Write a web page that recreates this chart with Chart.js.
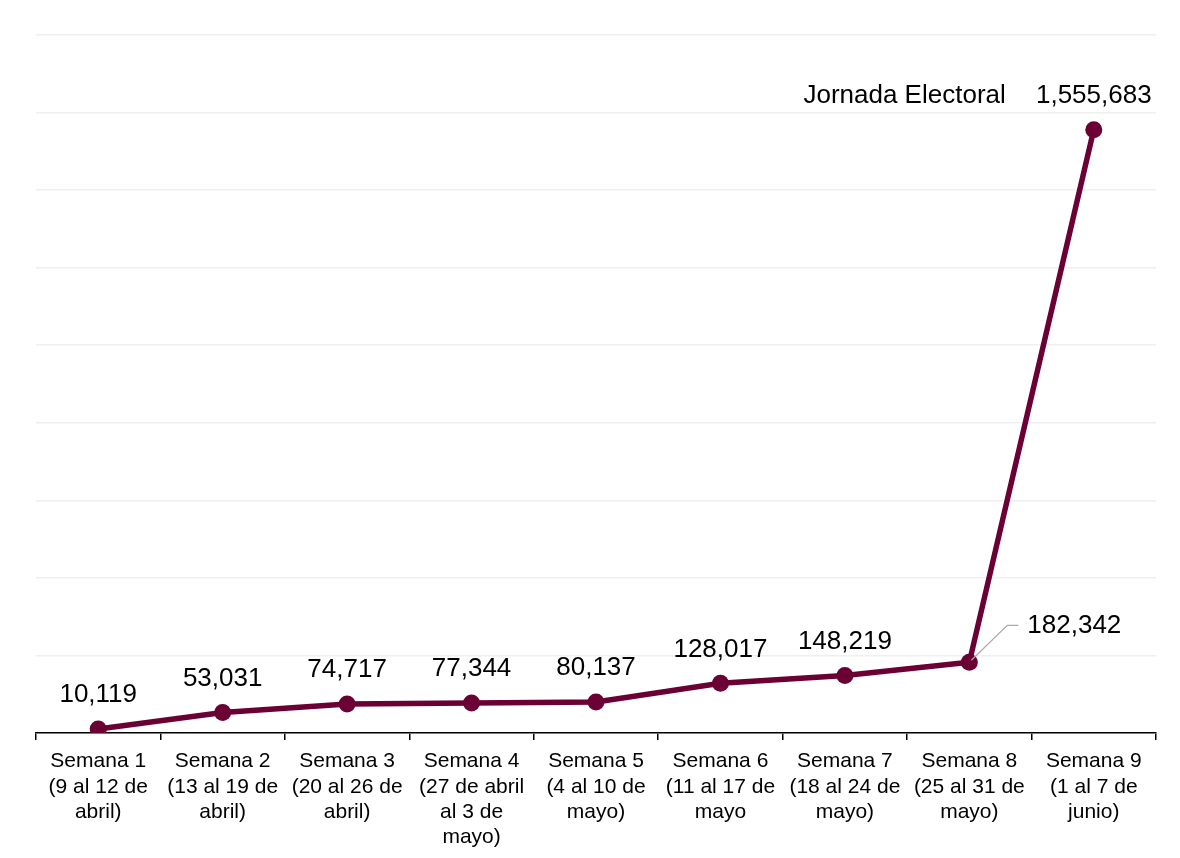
<!DOCTYPE html>
<html>
<head>
<meta charset="utf-8">
<script src="https://cdn.jsdelivr.net/npm/chart.js@4/dist/chart.umd.min.js"></script>
<style>
  html, body { margin: 0; padding: 0; background: #fff; }
  #wrap { width: 1180px; height: 858px; position: relative; }
</style>
</head>
<body>
<div id="wrap"><canvas id="chart"></canvas></div>
<script>
var semanas = [
    ['Semana 1', '(9 al 12 de', 'abril)'],
    ['Semana 2', '(13 al 19 de', 'abril)'],
    ['Semana 3', '(20 al 26 de', 'abril)'],
    ['Semana 4', '(27 de abril', 'al 3 de', 'mayo)'],
    ['Semana 5', '(4 al 10 de', 'mayo)'],
    ['Semana 6', '(11 al 17 de', 'mayo'],
    ['Semana 7', '(18 al 24 de', 'mayo)'],
    ['Semana 8', '(25 al 31 de', 'mayo)'],
    ['Semana 9', '(1 al 7 de', 'junio)']
];
var registros = [10119, 53031, 74717, 77344, 80137, 128017, 148219, 182342, 1555683];
var yMax = 1800000;
var yStep = 200000;
var notaJornada = 'Jornada Electoral';

var granate = '#6b0035';

function fmt(n) {
    return n.toLocaleString('en-US');
}

// etiquetas de valor encima de cada punto
var etiquetas = {
    id: 'etiquetas',
    afterDatasetsDraw: function(chart) {
        var ctx = chart.ctx;
        var meta = chart.getDatasetMeta(0);
        var last = registros.length - 1;
        ctx.save();
        ctx.font = '26px "Liberation Sans", Arial, sans-serif';
        ctx.fillStyle = '#000';
        ctx.textBaseline = 'middle';
        meta.data.forEach(function(pt, i) {
            var txt = fmt(registros[i]);
            if (i === last - 1) {
                // semana 8: etiqueta a la derecha con linea guia
                ctx.strokeStyle = '#aaaaaa';
                ctx.lineWidth = 1.2;
                ctx.beginPath();
                ctx.moveTo(pt.x + 2, pt.y - 2);
                ctx.lineTo(pt.x + 38, pt.y - 37);
                ctx.lineTo(pt.x + 49, pt.y - 37);
                ctx.stroke();
                ctx.textAlign = 'left';
                ctx.fillText(txt, pt.x + 58, pt.y - 36);
            } else {
                ctx.textAlign = 'center';
                ctx.fillText(txt, pt.x, pt.y - 34);
            }
            if (i === last) {
                ctx.textAlign = 'right';
                ctx.fillText(notaJornada, pt.x - 88, pt.y - 34);
            }
        });
        ctx.restore();
    }
};

new Chart(document.getElementById('chart'), {
    type: 'line',
    data: {
        labels: semanas,
        datasets: [{
            data: registros,
            borderColor: granate,
            backgroundColor: granate,
            borderWidth: 5.5,
            pointRadius: 8.5,
            pointHoverRadius: 8.5,
            pointBackgroundColor: granate,
            pointBorderWidth: 0,
            tension: 0
        }]
    },
    options: {
        responsive: true,
        maintainAspectRatio: false,
        animation: false,
        layout: { padding: { left: 36, right: 24, top: 35, bottom: 0 } },
        plugins: {
            legend: { display: false },
            tooltip: { enabled: false }
        },
        scales: {
            x: {
                offset: true,
                border: { color: '#000', width: 1.5 },
                grid: {
                    offset: true,
                    drawOnChartArea: false,
                    drawTicks: true,
                    tickLength: 7,
                    color: '#000',
                    lineWidth: 1.5
                },
                ticks: {
                    autoSkip: false,
                    maxRotation: 0,
                    padding: 9,
                    color: '#000',
                    font: { family: '"Liberation Sans", Arial, sans-serif', size: 21, lineHeight: 1.2 }
                },
                afterFit: function(scale) { scale.height = 125; }
            },
            y: {
                min: 0,
                max: yMax,
                border: { display: false },
                grid: { color: '#efefef', lineWidth: 1.5, drawTicks: false },
                ticks: { display: false, stepSize: yStep },
                afterFit: function(scale) { scale.width = 0; }
            }
        }
    },
    plugins: [etiquetas]
});
</script>
</body>
</html>
